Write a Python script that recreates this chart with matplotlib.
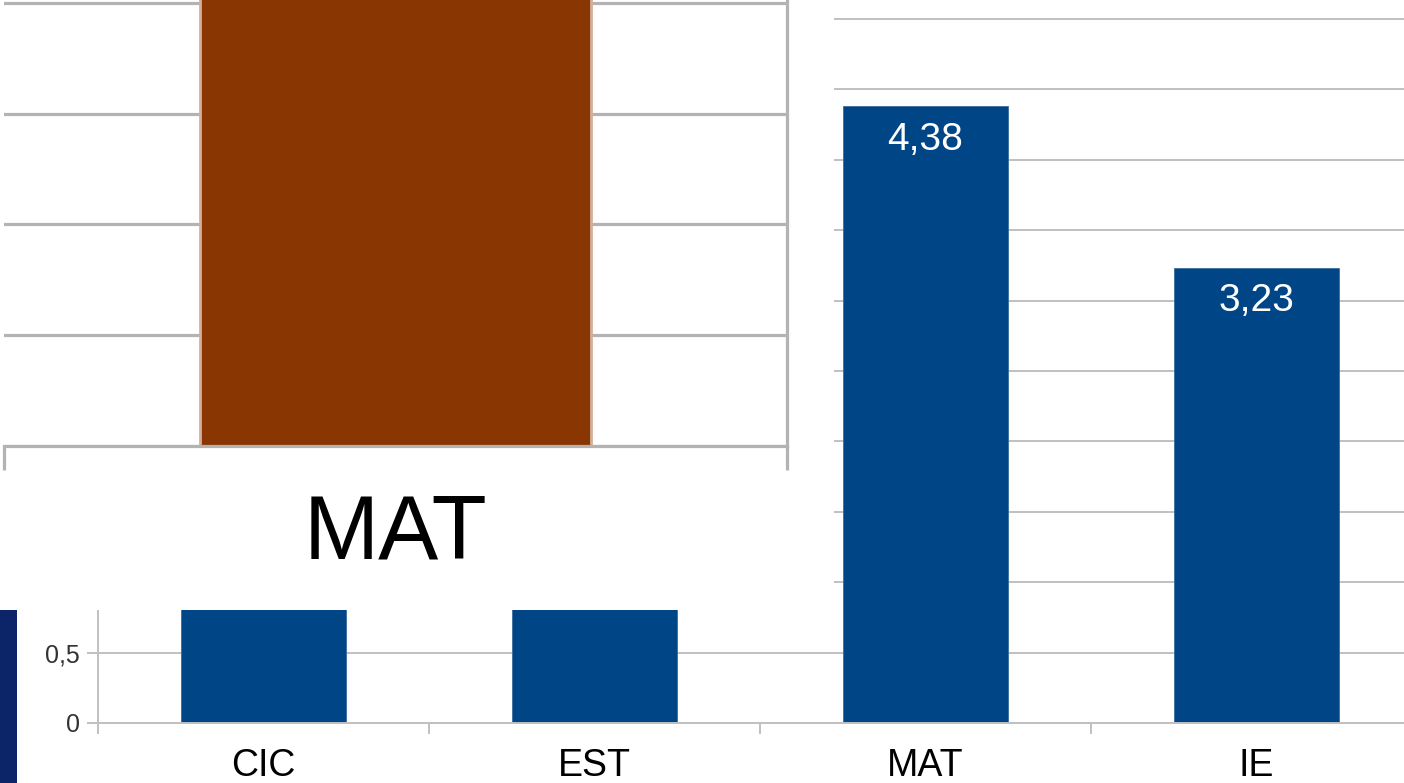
import matplotlib.pyplot as plt
from matplotlib.patches import Rectangle
from matplotlib.ticker import FuncFormatter, MultipleLocator

# main chart data (CIC / EST tops are hidden under the zoomed inset)
categories = ["CIC", "EST", "MAT", "IE"]
values = [3.6, 3.1, 4.38, 3.23]
shown_labels = ["", "", "4,38", "3,23"]

# zoomed inset data
inset_category = "MAT"
inset_value = 4.38

BLUE = "#004586"
BROWN = "#8a3602"
GRID = "#c0c0c0"
W, H = 1404, 783

plt.rcParams["font.family"] = ["Liberation Sans", "DejaVu Sans"]

fig = plt.figure(figsize=(W / 100, H / 100), dpi=100)


def fx(px):
    return px / W


def fy(px_from_top):
    return 1 - px_from_top / H


# ---- main bar chart ----
ax = fig.add_axes([fx(98), fy(723), fx(1324), 5.5 * 140.8 / H])
x = range(len(categories))
ax.bar(x, values, width=0.5, color=BLUE, edgecolor="#3d6d9e", linewidth=0.6, zorder=2)
ax.set_xlim(-0.5, 3.5)
ax.set_ylim(0, 5.5)
ax.set_yticks([i * 0.5 for i in range(11)])
ax.yaxis.set_major_formatter(FuncFormatter(lambda v, _: f"{v:g}".replace(".", ",")))
ax.grid(axis="y", color=GRID, linewidth=1.4, zorder=0)
ax.set_xticks([i - 0.5 for i in range(len(categories) + 1)], minor=False)
ax.set_xticklabels([])
ax.set_xticks(list(x), minor=True)
ax.set_xticklabels(categories, minor=True, fontsize=27)
ax.tick_params(axis="x", which="minor", length=0, pad=18)
ax.tick_params(axis="x", which="major", length=8, width=1.4, color=GRID)
ax.tick_params(axis="y", length=8, width=1.4, color=GRID, labelsize=18, labelcolor="#333333", pad=5)
for side in ["top", "right"]:
    ax.spines[side].set_visible(False)
ax.spines["bottom"].set_color(GRID)
ax.spines["bottom"].set_linewidth(1.4)
ax.spines["left"].set_color(GRID)
ax.spines["left"].set_linewidth(1.4)
for xi, v, lab in zip(x, values, shown_labels):
    ax.annotate(lab, (xi, v), xytext=(0, -11), textcoords="offset points",
                ha="center", va="top", color="white", fontsize=28, zorder=3)

# white overlay holding the zoomed inset
fig.patches.append(Rectangle((0, fy(610)), fx(834), 610 / H, transform=fig.transFigure,
                             facecolor="white", edgecolor="none", zorder=5))
fig.patches.append(Rectangle((0, 0), fx(17), fy(610), transform=fig.transFigure,
                             facecolor="#0c2468", edgecolor="none", zorder=5))

# ---- zoomed inset ----
ins = fig.add_axes([fx(4), fy(446), fx(783), 446 / H], zorder=6)
ins.bar([0], [inset_value], width=0.5, color=BROWN, edgecolor="#d4b09b", linewidth=2, zorder=2)
ins.set_xlim(-0.5, 0.5)
ins.set_ylim(0, 446 / 221.5)
ins.yaxis.set_major_locator(MultipleLocator(0.5))
ins.grid(axis="y", color="#b3b3b3", linewidth=2.3, zorder=0)
ins.set_xticks([-0.5, 0.5])
ins.set_xticklabels([])
ins.set_yticklabels([])
ins.tick_params(axis="y", length=0)
ins.tick_params(axis="x", length=17, width=2.3, color="#b3b3b3")
for side in ["top", "left"]:
    ins.spines[side].set_visible(False)
for side in ["bottom", "right"]:
    ins.spines[side].set_color("#b3b3b3")
    ins.spines[side].set_linewidth(2.3)
ins.text(0.5, -0.2, inset_category, transform=ins.transAxes, ha="center", va="center",
         fontsize=65, color="black")

fig.savefig("out.png", dpi=100)
